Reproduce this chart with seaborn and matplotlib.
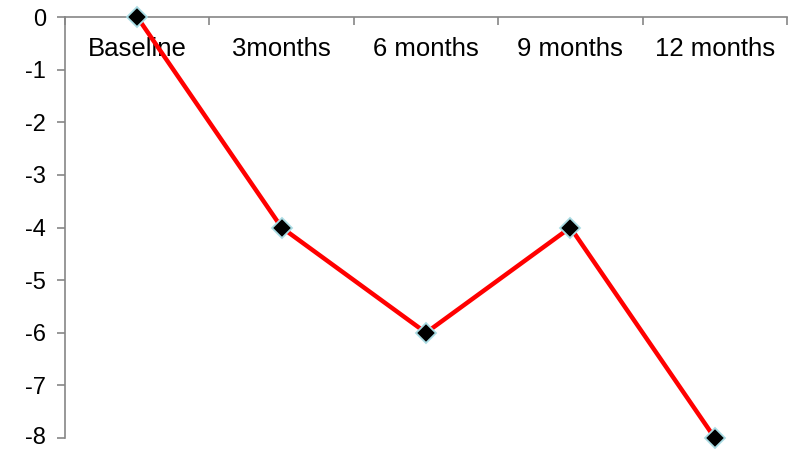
import matplotlib
matplotlib.use("Agg")
import matplotlib.pyplot as plt
import matplotlib.transforms as mtransforms
import seaborn as sns
import pandas as pd

categories = ["Baseline", "3months", "6 months", "9 months", "12 months"]
values = [0, -4, -6, -4, -8]
y_ticks = [0, -1, -2, -3, -4, -5, -6, -7, -8]

sns.set_style("white")
plt.rcParams["font.family"] = ["Liberation Sans", "DejaVu Sans"]

df = pd.DataFrame({"period": categories, "change": values})

fig = plt.figure(figsize=(7.94, 4.49), dpi=100)
ax = fig.add_axes([65 / 794, 1 - 438 / 449, (787 - 65) / 794, (438 - 17) / 449])

sns.lineplot(data=df, x="period", y="change", ax=ax, color="#ff0000",
             linewidth=3.2, marker="D", markersize=10.5,
             markerfacecolor="black", markeredgecolor="#a9dbe3",
             markeredgewidth=1.3, sort=False, clip_on=False, zorder=5)

ax.set_xlim(-0.5, len(categories) - 0.5)
ax.set_ylim(min(y_ticks), max(y_ticks))
ax.set_xlabel("")
ax.set_ylabel("")

axis_color = "#868686"
for side in ["bottom", "right"]:
    ax.spines[side].set_visible(False)
for side in ["top", "left"]:
    ax.spines[side].set_visible(True)
    ax.spines[side].set_color(axis_color)
    ax.spines[side].set_linewidth(1.2)

# category boundaries as tick marks on the zero line
ax.set_xticks([i - 0.5 for i in range(len(categories) + 1)])
ax.set_xticklabels([])
ax.tick_params(axis="x", which="major", bottom=False, top=True, direction="in",
               length=5.5, width=1.2, color=axis_color)

ax.set_yticks(y_ticks)
ax.set_yticklabels([f"{v:g}" for v in y_ticks])
ax.tick_params(axis="y", left=True, direction="out", length=5.5, width=1.2,
               color=axis_color, labelsize=17, pad=8, labelcolor="black")

# nudge the lowest value label up so it stays inside the canvas
lowest = ax.get_yticklabels()[-1]
lowest.set_transform(lowest.get_transform()
                     + mtransforms.ScaledTranslation(0, 3 / 100, fig.dpi_scale_trans))

# category labels sit just under the zero line
trans = mtransforms.blended_transform_factory(ax.transData, ax.transAxes)
for i, name in enumerate(categories):
    ax.text(i, 1 - 32 / 421, name, transform=trans, ha="center", va="center",
            fontsize=18.5, color="black")

fig.savefig("out.png", dpi=100)
